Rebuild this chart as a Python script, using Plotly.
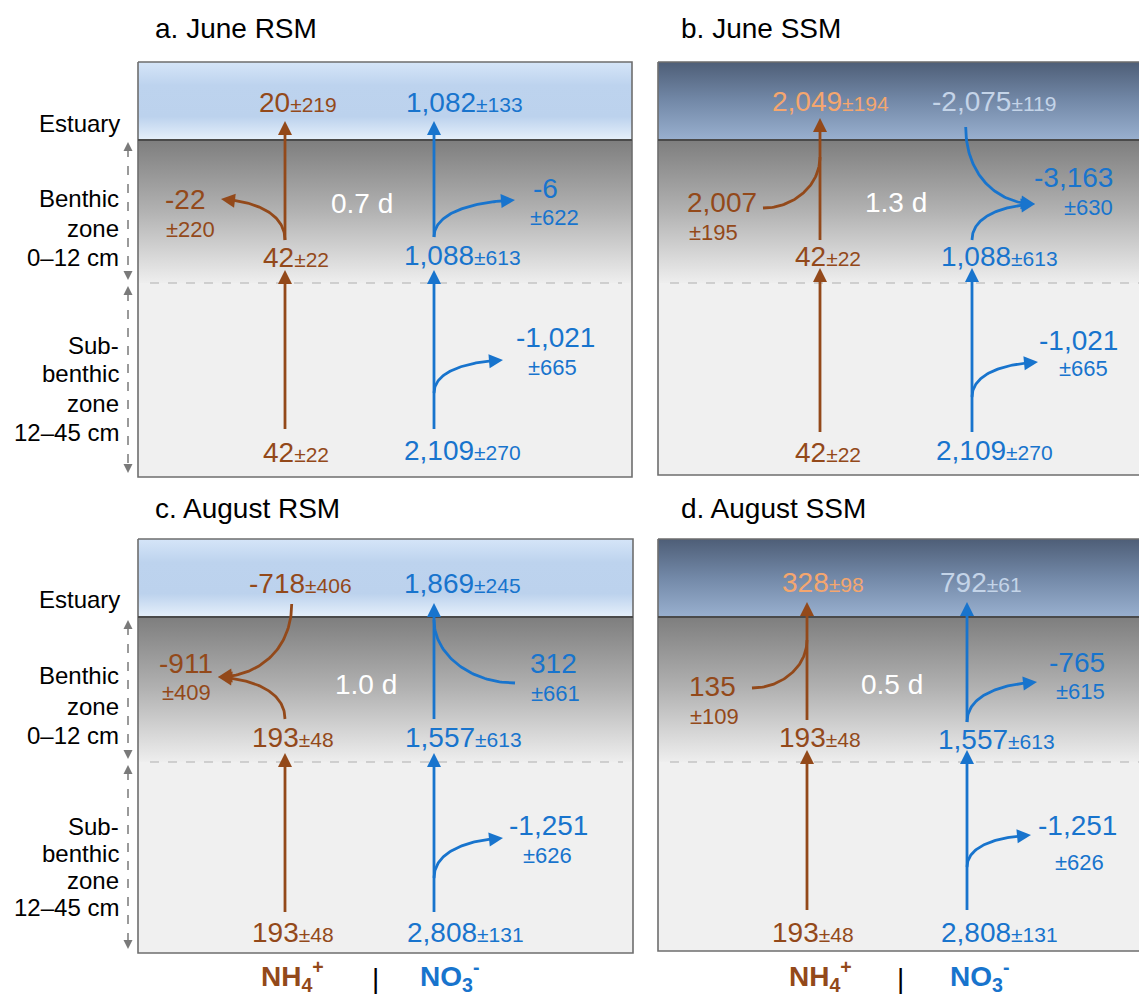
import numpy as np
import plotly.graph_objects as go

# ---------------- flux data (panels a, b, c, d) ----------------
panel_titles = ["a. June RSM", "b. June SSM", "c. August RSM", "d. August SSM"]
panel_is_ssm = [False, True, False, True]
residence_time_d = [0.7, 1.3, 1.0, 0.5]

nh4_estuary = [20, 2049, -718, 328]
nh4_estuary_sd = [219, 194, 406, 98]
no3_estuary = [1082, -2075, 1869, 792]
no3_estuary_sd = [133, 119, 245, 61]

nh4_benthic_exchange = [-22, 2007, -911, 135]
nh4_benthic_exchange_sd = [220, 195, 409, 109]
no3_benthic_exchange = [-6, -3163, 312, -765]
no3_benthic_exchange_sd = [622, 630, 661, 615]

nh4_benthic_supply = [42, 42, 193, 193]
nh4_benthic_supply_sd = [22, 22, 48, 48]
no3_benthic_supply = [1088, 1088, 1557, 1557]
no3_benthic_supply_sd = [613, 613, 613, 613]

no3_subbenthic_exchange = [-1021, -1021, -1251, -1251]
no3_subbenthic_exchange_sd = [665, 665, 626, 626]

nh4_deep_supply = [42, 42, 193, 193]
nh4_deep_supply_sd = [22, 22, 48, 48]
no3_deep_supply = [2109, 2109, 2808, 2808]
no3_deep_supply_sd = [270, 270, 131, 131]

zone_estuary = "Estuary"
zone_benthic = ["Benthic", "zone", "0–12 cm"]
zone_subbenthic = ["Sub-", "benthic", "zone", "12–45 cm"]

# ---------------- styling ----------------
W, H = 1139, 997
FONT = "Liberation Sans, Arial, sans-serif"
BROWN = "#93491A"
BLUE = "#1874CD"
LIGHT_ORANGE = "#F5A66E"
LIGHT_BLUE = "#C4D4E8"
BIG, INLINE_SD, SD = 28, 21, 22
ZONE_FONT = 24
TITLE_FONT = 28
LINE_W = 2.8

# ---------------- diagram layout (pixel space) ----------------
GEOM = [
    dict(box=(138, 632, 62, 140, 283, 477), nh4_x=285, no3_x=434, est_tip=121, est_drop_y=127,
         est_lbl=[(298, 102), (464, 102)], ben_lbl=[(296, 257), (462, 255)], ben_top=[240, 237],
         nh4_side=(221, 199), nh4_merge=None, nh4_side_lbl=[(185, 199), (190, 229)],
         no3_side=(515, 200), no3_merge=None, no3_side_lbl=[(545, 188), (554, 217)],
         res=(362, 203), low_tip=270, low_bottom=429, deep_lbl=[(296, 452), (462, 450)],
         sub_start=393, sub_tip=(503, 360), sub_lbl=[(555, 337), (552, 367)],
         title=(153, 28)),
    dict(box=(658, 1150, 62, 140, 283, 475), nh4_x=820, no3_x=972, est_tip=118, est_drop_y=127,
         est_lbl=[(830, 101), (994, 101)], ben_lbl=[(828, 256), (999, 256)], ben_top=[240, 240],
         nh4_side=(763, 208), nh4_merge=157, nh4_side_lbl=[(722, 202), (713, 232)],
         no3_side=(1035, 204), no3_merge=None, no3_side_lbl=[(1073, 177), (1088, 207)],
         res=(896, 202), low_tip=268, low_bottom=432, deep_lbl=[(828, 452), (994, 450)],
         sub_start=397, sub_tip=(1038, 362), sub_lbl=[(1078, 340), (1083, 368)],
         title=(679, 28)),
    dict(box=(138, 633, 539, 617, 762, 953), nh4_x=285, no3_x=434, est_tip=603, est_drop_y=604,
         est_lbl=[(300, 583), (462, 583)], ben_lbl=[(293, 737), (463, 737)], ben_top=[719, 719],
         nh4_side=(218, 677), nh4_merge=None, nh4_side_lbl=[(186, 663), (186, 692)],
         no3_side=(515, 683), no3_merge=620, no3_side_lbl=[(553, 663), (555, 693)],
         res=(366, 684), low_tip=753, low_bottom=912, deep_lbl=[(293, 932), (465, 932)],
         sub_start=878, sub_tip=(503, 838), sub_lbl=[(548, 825), (547, 855)],
         title=(153, 508)),
    dict(box=(658, 1150, 539, 617, 762, 951), nh4_x=807, no3_x=967, est_tip=602, est_drop_y=604,
         est_lbl=[(823, 582), (981, 582)], ben_lbl=[(820, 737), (996, 739)], ben_top=[720, 722],
         nh4_side=(752, 688), nh4_merge=640, nh4_side_lbl=[(712, 686), (714, 716)],
         no3_side=(1037, 682), no3_merge=None, no3_side_lbl=[(1077, 662), (1080, 691)],
         res=(892, 684), low_tip=750, low_bottom=910, deep_lbl=[(813, 932), (999, 932)],
         sub_start=867, sub_tip=(1031, 835), sub_lbl=[(1077, 825), (1079, 862)],
         title=(679, 508)),
]

fig = go.Figure()
annotations = []


def fmt(v):
    return f"{v:,}"


def text(x, y, s, color="#000000", size=22, xanchor="center"):
    annotations.append(dict(x=x, y=y, xref="x", yref="y", text=s, showarrow=False,
                            xanchor=xanchor, yanchor="middle",
                            font=dict(family=FONT, size=size, color=color)))


def bezier(p0, p1, p2, p3, n=60):
    t = np.linspace(0, 1, n)[:, None]
    p0, p1, p2, p3 = map(np.asarray, (p0, p1, p2, p3))
    return (1 - t) ** 3 * p0 + 3 * (1 - t) ** 2 * t * p1 + 3 * (1 - t) * t ** 2 * p2 + t ** 3 * p3


def polyline(pts, color, width=LINE_W, dash=None):
    pts = np.asarray(pts, dtype=float)
    fig.add_trace(go.Scatter(x=pts[:, 0], y=pts[:, 1], mode="lines",
                             line=dict(color=color, width=width, dash=dash),
                             hoverinfo="skip", showlegend=False))


def head(tip, direction, color, length=14, half=7):
    d = np.asarray(direction, dtype=float)
    d = d / np.linalg.norm(d)
    n = np.array([-d[1], d[0]])
    tip = np.asarray(tip, dtype=float)
    base = tip - length * d
    tri = np.array([tip, base + half * n, base - half * n, tip])
    fig.add_trace(go.Scatter(x=tri[:, 0], y=tri[:, 1], mode="lines", fill="toself",
                             fillcolor=color, line=dict(width=0, color=color),
                             hoverinfo="skip", showlegend=False))


def arrow_path(pts, color, width=LINE_W, length=14, half=7):
    """Draw a path ending in a filled arrowhead at its last point."""
    pts = np.asarray(pts, dtype=float)
    tip = pts[-1]
    dist = np.linalg.norm(pts - tip, axis=1)
    near = dist < length * 1.2
    ref = pts[np.argmax(near) - 1] if np.any(near) and np.argmax(near) > 0 else pts[-2]
    d = tip - ref
    d = d / np.linalg.norm(d)
    keep = pts[dist > length * 0.7]
    polyline(np.vstack([keep, tip - 0.7 * length * d]), color, width)
    head(tip, d, color, length, half)


def gradient_rect(x0, x1, ya, yb, scale):
    fig.add_trace(go.Scatter(x=[x0, x1, x1, x0, x0], y=[ya, ya, yb, yb, ya], mode="lines",
                             fill="toself", line=dict(width=0),
                             fillgradient=dict(type="vertical", colorscale=scale, start=ya, stop=yb),
                             hoverinfo="skip", showlegend=False))


def out_branch(start, tip, color):
    sx, sy = start
    tx, ty = tip
    dx, dy = tx - sx, sy - ty
    arrow_path(bezier((sx, sy), (sx, sy - 0.6 * dy), (tx - 0.6 * dx, ty + 0.06 * dy), (tx, ty)), color)


def in_branch(start, merge, color):
    sx, sy = start
    mx, my = merge
    polyline(bezier((sx, sy), (sx + 0.55 * (mx - sx), sy), (mx, my + 0.55 * (sy - my)), (mx, my)), color)


def column(cx, est, side, side_pt, merge_y, ben_top, color, g):
    """Benthic-zone paths for one nutrient in one panel."""
    if est > 0:
        arrow_path([(cx, ben_top), (cx, g["est_tip"])], color)
        if side < 0:
            out_branch((cx, ben_top), side_pt, color)
        else:
            in_branch(side_pt, (cx, merge_y), color)
    else:
        # estuary flux enters the sediment and joins the benthic sink
        tx, ty = side_pt
        sx = cx - 0.1 * (tx - cx)
        sy = g["est_drop_y"]
        dx, dy = tx - sx, ty - sy
        arrow_path(bezier((sx, sy), (sx, sy + 0.62 * dy), (tx - 0.55 * dx, ty), (tx, ty)), color)
        out_branch((cx, ben_top), side_pt, color)


def inline(v, sd):
    return f"{fmt(v)}<span style='font-size:{INLINE_SD}px'>±{sd}</span>"


# ---------------- panels ----------------
EST_RSM = [[0, "#D5E5F8"], [0.3, "#BDD3EE"], [0.7, "#BCD2ED"], [1, "#E6F0FB"]]
EST_SSM = [[0, "#4E5E77"], [0.5, "#7389A8"], [1, "#99B0CF"]]
BENTHIC = [[0, "#7E7E7E"], [0.5, "#B2B2B2"], [1, "#EEEEEE"]]

for i, g in enumerate(GEOM):
    x0, x1, y0, yb, yd, y1 = g["box"]
    gradient_rect(x0, x1, y0, yb, EST_SSM if panel_is_ssm[i] else EST_RSM)
    gradient_rect(x0, x1, yb, yd, BENTHIC)
    gradient_rect(x0, x1, yd, y1, [[0, "#F0F0F0"], [1, "#F0F0F0"]])
    polyline([(x0 + 12, yd), (x1 - 10, yd)], "#C4C4C4", 1.3, "dash")
    polyline([(x0, y0), (x1, y0), (x1, y1), (x0, y1), (x0, y0)], "#6E6E6E", 1.6)
    polyline([(x0, yb), (x1, yb)], "#4A4A4A", 2.2)

    nx, bx = g["nh4_x"], g["no3_x"]
    column(nx, nh4_estuary[i], nh4_benthic_exchange[i], g["nh4_side"], g["nh4_merge"],
           g["ben_top"][0], BROWN, g)
    column(bx, no3_estuary[i], no3_benthic_exchange[i], g["no3_side"], g["no3_merge"],
           g["ben_top"][1], BLUE, g)

    # sub-benthic zone
    arrow_path([(nx, g["low_bottom"]), (nx, g["low_tip"])], BROWN)
    arrow_path([(bx, g["low_bottom"]), (bx, g["low_tip"])], BLUE)
    out_branch((bx, g["sub_start"]), g["sub_tip"], BLUE)

    # labels
    text(g["title"][0], g["title"][1], panel_titles[i], "#000000", TITLE_FONT, "left")
    est_nh4_col = LIGHT_ORANGE if panel_is_ssm[i] else BROWN
    est_no3_col = LIGHT_BLUE if panel_is_ssm[i] else BLUE

    text(*g["est_lbl"][0], inline(nh4_estuary[i], nh4_estuary_sd[i]), est_nh4_col, BIG)
    text(*g["est_lbl"][1], inline(no3_estuary[i], no3_estuary_sd[i]), est_no3_col, BIG)
    text(*g["ben_lbl"][0], inline(nh4_benthic_supply[i], nh4_benthic_supply_sd[i]), BROWN, BIG)
    text(*g["ben_lbl"][1], inline(no3_benthic_supply[i], no3_benthic_supply_sd[i]), BLUE, BIG)
    text(*g["deep_lbl"][0], inline(nh4_deep_supply[i], nh4_deep_supply_sd[i]), BROWN, BIG)
    text(*g["deep_lbl"][1], inline(no3_deep_supply[i], no3_deep_supply_sd[i]), BLUE, BIG)

    text(*g["nh4_side_lbl"][0], fmt(nh4_benthic_exchange[i]), BROWN, BIG)
    text(*g["nh4_side_lbl"][1], f"±{nh4_benthic_exchange_sd[i]}", BROWN, SD)
    text(*g["no3_side_lbl"][0], fmt(no3_benthic_exchange[i]), BLUE, BIG)
    text(*g["no3_side_lbl"][1], f"±{no3_benthic_exchange_sd[i]}", BLUE, SD)
    text(*g["sub_lbl"][0], fmt(no3_subbenthic_exchange[i]), BLUE, BIG)
    text(*g["sub_lbl"][1], f"±{no3_subbenthic_exchange_sd[i]}", BLUE, SD)

    text(*g["res"], f"{residence_time_d[i]:.1f} d", "#FFFFFF", BIG)

# ---------------- zone labels and depth brackets (left side) ----------------
ZONE_Y = [
    dict(est=123, ben=[198, 228, 257], sub=[345, 373, 403, 432], ben_arr=(142, 280), sub_arr=(286, 473)),
    dict(est=599, ben=[675, 706, 735], sub=[826, 853, 880, 907], ben_arr=(620, 759), sub_arr=(765, 949)),
]
for z in ZONE_Y:
    text(122, z["est"], zone_estuary, "#000000", ZONE_FONT, "right")
    for s, y in zip(zone_benthic, z["ben"]):
        text(121, y, s, "#000000", ZONE_FONT, "right")
    for s, y in zip(zone_subbenthic, z["sub"]):
        text(121, y, s, "#000000", ZONE_FONT, "right")
    for ya, yb in (z["ben_arr"], z["sub_arr"]):
        polyline([(128, ya + 6), (128, yb - 6)], "#7A7A7A", 1.5, "dash")
        head((128, ya), (0, -1), "#7A7A7A", 9, 4.5)
        head((128, yb), (0, 1), "#7A7A7A", 9, 4.5)

# ---------------- nutrient key under the columns ----------------
for nh4_x, bar_x, no3_x in ((292, 375, 449), (820, 900, 979)):
    text(nh4_x, 976, "<b>NH<sub>4</sub><sup>+</sup></b>", BROWN, 28)
    text(bar_x, 978, "|", "#000000", 28)
    text(no3_x, 976, "<b>NO<sub>3</sub><sup>-</sup></b>", BLUE, 28)

fig.update_layout(
    width=W, height=H, margin=dict(l=0, r=0, t=0, b=0),
    paper_bgcolor="white", plot_bgcolor="white",
    xaxis=dict(range=[0, W], visible=False, fixedrange=True),
    yaxis=dict(range=[H, 0], visible=False, fixedrange=True),
    annotations=annotations, showlegend=False,
)
fig.write_html("out.html")
